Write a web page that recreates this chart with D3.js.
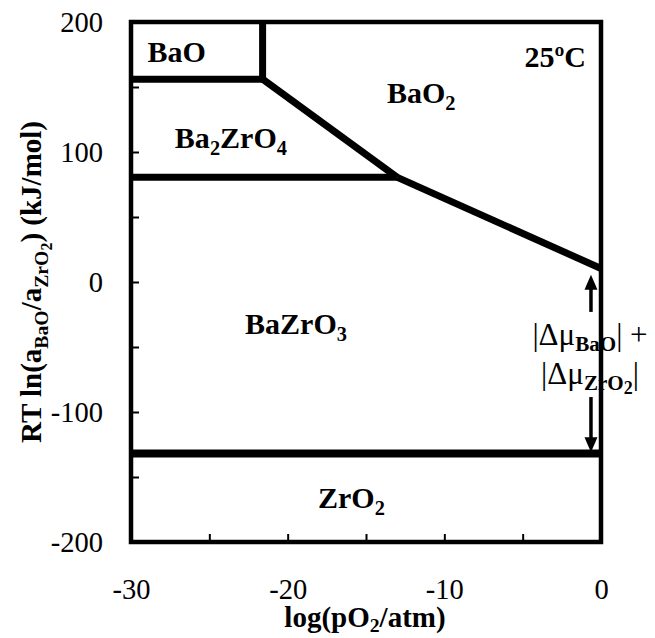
<!DOCTYPE html>
<html>
<head>
<meta charset="utf-8">
<script src="https://cdn.jsdelivr.net/npm/d3@7"></script>
<style>
  html, body { margin: 0; padding: 0; background: #fff; }
  svg { display: block; }
</style>
</head>
<body>
<svg id="chart" width="655" height="638"></svg>
<script>
// Axis ranges and ticks
const xDomain = [-30, 0];
const yDomain = [-200, 200];
const xTicks = [-30, -25, -20, -15, -10, -5, 0];
const xTickLabels = [-30, -20, -10, 0];
const yTicks = [-200, -150, -100, -50, 0, 50, 100, 150, 200];
const yTickLabels = [-200, -100, 0, 100, 200];

// Phase boundaries (log pO2, RT ln(aBaO/aZrO2) in kJ/mol)
const baoBoundary = [[-30, 156], [-21.6, 156], [-21.6, 200]];
const baoBa2zro4Boundary = [[-21.6, 156], [-13.0, 80.5]];
const ba2zro4BazroBoundary = [[-30, 80.5], [-13.0, 80.5]];
const bao2BazroBoundary = [[-13.0, 80.5], [0, 10.4]];
const zro2Boundary = [[-30, -132], [0, -132]];

// Stability window arrows at the high-pO2 edge
const windowArrowX = -0.64;
const upArrow = [-23, 5.5];
const downArrow = [-88.5, -131];

const svg = d3.select("#chart");
const x = d3.scaleLinear().domain(xDomain).range([131, 601]);
const y = d3.scaleLinear().domain(yDomain).range([542, 22]);
const serif = '"Liberation Serif", "Times New Roman", serif';

// Frame
svg.append("rect")
  .attr("x", x(-30)).attr("y", y(200))
  .attr("width", x(0) - x(-30)).attr("height", y(-200) - y(200))
  .attr("fill", "none").attr("stroke", "#000").attr("stroke-width", 4.5);

// Inward ticks
const xAxis = d3.axisBottom(x).tickValues(xTicks).tickSize(-8).tickPadding(37)
  .tickFormat(d => xTickLabels.includes(d) ? String(d) : "");
const yAxis = d3.axisLeft(y).tickValues(yTicks).tickSize(-8).tickPadding(28)
  .tickFormat(d => yTickLabels.includes(d) ? String(d) : "");

const gx = svg.append("g").attr("transform", `translate(0,${y(-200)})`).call(xAxis);
const gy = svg.append("g").attr("transform", `translate(${x(-30)},0)`).call(yAxis);
[gx, gy].forEach(g => {
  g.attr("font-family", null).attr("font-size", null);
  g.select(".domain").remove();
  g.selectAll(".tick line").attr("stroke", "#000").attr("stroke-width", 2);
  g.selectAll(".tick text")
    .style("font-family", serif)
    .style("font-size", "28.5px").style("fill", "#000");
});

// Boundaries
const line = d3.line().x(d => x(d[0])).y(d => y(d[1]));
const boundaryStyle = { width: 7, zro2Width: 8 };
[baoBoundary, baoBa2zro4Boundary, ba2zro4BazroBoundary, bao2BazroBoundary].forEach(pts => {
  svg.append("path").attr("d", line(pts))
    .attr("fill", "none").attr("stroke", "#000")
    .attr("stroke-width", boundaryStyle.width)
    .attr("stroke-linejoin", "miter").attr("stroke-linecap", "butt");
});
svg.append("path").attr("d", line(zro2Boundary))
  .attr("fill", "none").attr("stroke", "#000")
  .attr("stroke-width", boundaryStyle.zro2Width);

// Arrows
function arrow(fromVal, toVal) {
  const ax = x(windowArrowX);
  const y0 = y(fromVal), y1 = y(toVal);
  const dir = y1 < y0 ? -1 : 1;
  const headLen = 15, headHalf = 6.5;
  svg.append("line")
    .attr("x1", ax).attr("x2", ax)
    .attr("y1", y0).attr("y2", y1 - dir * headLen + dir * 1)
    .attr("stroke", "#000").attr("stroke-width", 3.5);
  svg.append("path")
    .attr("d", `M${ax},${y1} L${ax - headHalf},${y1 - dir * headLen} L${ax + headHalf},${y1 - dir * headLen} Z`)
    .attr("fill", "#000");
}
arrow(upArrow[0], upArrow[1]);
arrow(downArrow[0], downArrow[1]);

// Rich text helper: parts = [text, sizeScale, baselineOffset(px, +down), bold]
function rich(sel, base, parts) {
  sel.style("font-family", serif).style("fill", "#000");
  let cur = 0;
  parts.forEach(([t, scale, off, bold]) => {
    const ts = sel.append("tspan").text(t)
      .style("font-size", (base * scale) + "px")
      .attr("dy", off - cur);
    if (bold !== undefined) ts.style("font-weight", bold ? "bold" : "normal");
    cur = off;
  });
  return sel;
}

const labelSize = 30;
const sub = 0.68, subOff = 7;
function phaseLabel(px, py, parts, anchor) {
  const t = svg.append("text")
    .attr("x", x(px)).attr("y", y(py))
    .style("font-weight", "bold")
    .attr("text-anchor", anchor || "start");
  rich(t, labelSize, parts);
}

phaseLabel(-28.95, 169.2, [["BaO", 1, 0]]);
phaseLabel(-0.96, 165.4, [["25ºC", 1, 0]], "end");
phaseLabel(-13.66, 137.7, [["BaO", 1, 0], ["2", sub, subOff]]);
phaseLabel(-27.2, 103, [["Ba", 1, 0], ["2", sub, subOff], ["ZrO", 1, 0], ["4", sub, subOff]]);
phaseLabel(-22.72, -40, [["BaZrO", 1, 0], ["3", sub, subOff]]);
phaseLabel(-18.06, -173.8, [["ZrO", 1, 0], ["2", sub, subOff]]);

// Window annotation
const noteSize = 31;
const n1 = svg.append("text").attr("x", 590).attr("y", 345).attr("text-anchor", "middle");
rich(n1, noteSize, [["|Δμ", 1, 0, false], ["BaO", 0.68, 6, true], ["| +", 1, 0, false]]);
const n2 = svg.append("text").attr("x", 590).attr("y", 384).attr("text-anchor", "middle");
rich(n2, noteSize, [["|Δμ", 1, 0, false], ["ZrO", 0.68, 6, true], ["2", 0.58, 10, true], ["|", 1, 0, false]]);

// Axis titles
const xt = svg.append("text").attr("x", 365).attr("y", 627)
  .attr("text-anchor", "middle").style("font-weight", "bold");
rich(xt, 29, [["log(pO", 1, 0], ["2", 0.68, 5], ["/atm)", 1, 0]]);

const yt = svg.append("text")
  .attr("transform", `translate(41,${y(0)}) rotate(-90)`)
  .attr("text-anchor", "middle").style("font-weight", "bold");
rich(yt, 29, [["RT ln(a", 1, 0], ["BaO", 0.68, 7], ["/a", 1, 0], ["ZrO", 0.68, 7], ["2", 0.55, 11], [")", 1, 0], [" (kJ/mol)", 1, 0]]);
</script>
</body>
</html>
